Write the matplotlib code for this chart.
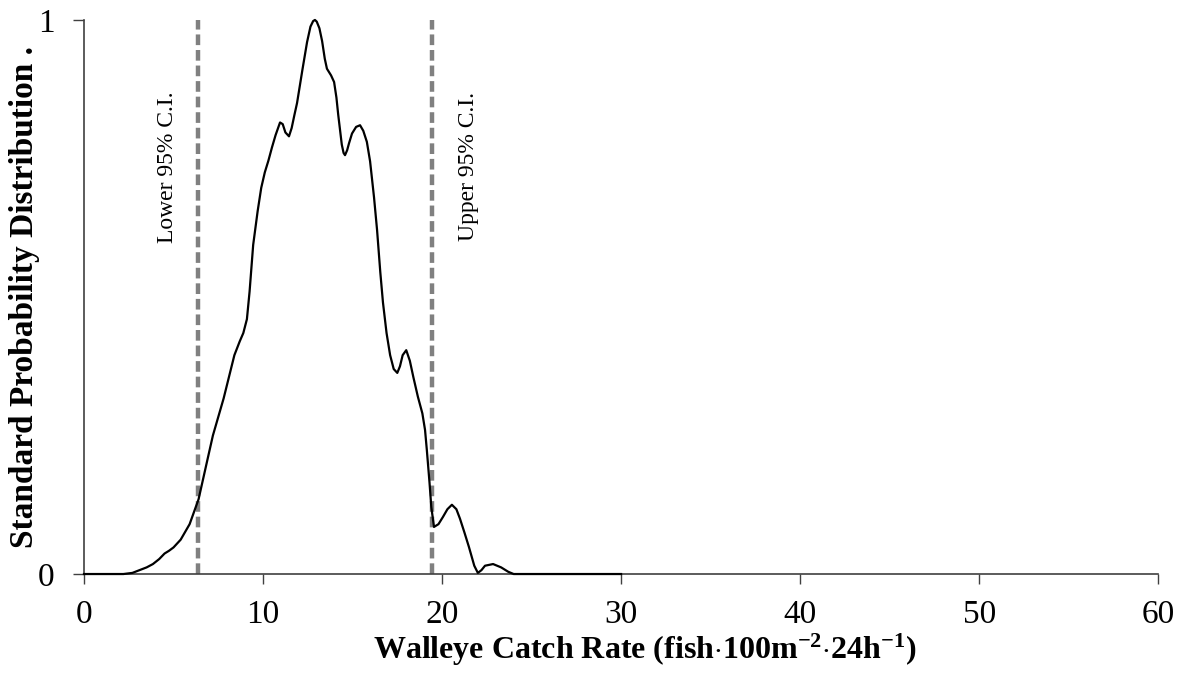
import matplotlib
matplotlib.use('Agg')
import matplotlib.pyplot as plt

plt.rcParams['font.family'] = ['Liberation Serif', 'DejaVu Serif']
plt.rcParams['mathtext.fontset'] = 'custom'
plt.rcParams['mathtext.rm'] = 'Liberation Serif'
plt.rcParams['mathtext.bf'] = 'Liberation Serif:bold'
plt.rcParams['mathtext.default'] = 'bf'

# catch rate (fish per 100 m2 per 24 h) and standardised probability
catch_rate = [0.0, 1.0, 2.2, 2.7, 3.1, 3.5, 3.85, 4.2, 4.5, 4.75, 5.0, 5.4, 5.9, 6.4,
              6.9, 7.2, 7.8, 8.4, 8.7, 8.9, 9.1, 9.25, 9.45, 9.7, 9.9, 10.1, 10.3,
              10.5, 10.7, 10.95, 11.1, 11.25, 11.45, 11.6, 11.75, 11.9, 12.2, 12.46,
              12.65, 12.8, 12.9, 13.0, 13.15, 13.3, 13.45, 13.57, 13.8, 13.97, 14.1,
              14.2, 14.4, 14.5, 14.58, 14.7, 14.8, 14.97, 15.2, 15.42, 15.6, 15.8,
              15.98, 16.2, 16.37, 16.55, 16.7, 16.9, 17.1, 17.3, 17.5, 17.65, 17.8,
              18.0, 18.2, 18.4, 18.65, 18.9, 19.05, 19.15, 19.3, 19.4, 19.55, 19.8,
              20.05, 20.3, 20.55, 20.8, 21.0, 21.25, 21.5, 21.8, 22.0, 22.2, 22.4,
              22.85, 23.3, 23.7, 24.0, 30.0]
probability = [0.0, 0.0, 0.0, 0.002, 0.007, 0.012, 0.018, 0.027, 0.037, 0.042, 0.048,
               0.062, 0.09, 0.135, 0.207, 0.25, 0.317, 0.395, 0.42, 0.435, 0.46, 0.51,
               0.594, 0.655, 0.697, 0.725, 0.746, 0.77, 0.792, 0.815, 0.812, 0.797,
               0.79, 0.805, 0.828, 0.85, 0.91, 0.96, 0.988, 0.998, 1.0, 0.997, 0.985,
               0.962, 0.93, 0.912, 0.9, 0.888, 0.86, 0.829, 0.775, 0.76, 0.756, 0.765,
               0.777, 0.795, 0.807, 0.81, 0.8, 0.78, 0.745, 0.68, 0.621, 0.545, 0.49,
               0.435, 0.395, 0.37, 0.363, 0.375, 0.395, 0.404, 0.385, 0.355, 0.32,
               0.29, 0.26, 0.224, 0.165, 0.121, 0.085, 0.09, 0.103, 0.117, 0.125, 0.117,
               0.1, 0.075, 0.049, 0.015, 0.002, 0.007, 0.015, 0.018, 0.012, 0.004, 0.0,
               0.0]

lower_ci = 6.37
upper_ci = 19.45

fig = plt.figure(figsize=(11.83, 6.79), dpi=100)
ax = fig.add_axes([0.071, 0.1546, 0.908, 0.816])

ax.plot(catch_rate, probability, color='black', lw=1.6, clip_on=False, zorder=3,
        solid_joinstyle='round')

for ci in [lower_ci, upper_ci]:
    ax.plot([ci, ci], [0, 1], color='#808080', lw=3.2, dashes=(2.4, 1.1),
            solid_capstyle='butt', dash_capstyle='butt', zorder=2)

ax.text(4.65, 0.735, 'Lower 95% C.I.', rotation=90, ha='center', va='center', fontsize=17)
ax.text(21.45, 0.735, 'Upper 95% C.I.', rotation=90, ha='center', va='center', fontsize=17)

ax.set_xlim(0, 60)
ax.set_ylim(0, 1)
ax.set_xticks([0, 10, 20, 30, 40, 50, 60])
ax.set_yticks([0, 1])
ax.tick_params(axis='x', direction='out', length=7, width=1, pad=11, labelsize=24, color='#404040')
ax.tick_params(axis='y', direction='out', length=8, width=1, pad=13, labelsize=24, color='#404040')

for side in ['top', 'right']:
    ax.spines[side].set_visible(False)
for side in ['left', 'bottom']:
    ax.spines[side].set_color('#404040')
    ax.spines[side].set_linewidth(1.2)

fig.text(0.545, 0.043, r'Walleye Catch Rate (fish$\cdot$100m$^{-2}$$\cdot$24h$^{-1}$)',
         ha='center', va='center', fontsize=23, fontweight='bold')
fig.text(0.021, 0.5626, 'Standard Probability Distribution .', rotation=90,
         ha='center', va='center', fontsize=24, fontweight='bold')

fig.savefig('out.png', dpi=100)
